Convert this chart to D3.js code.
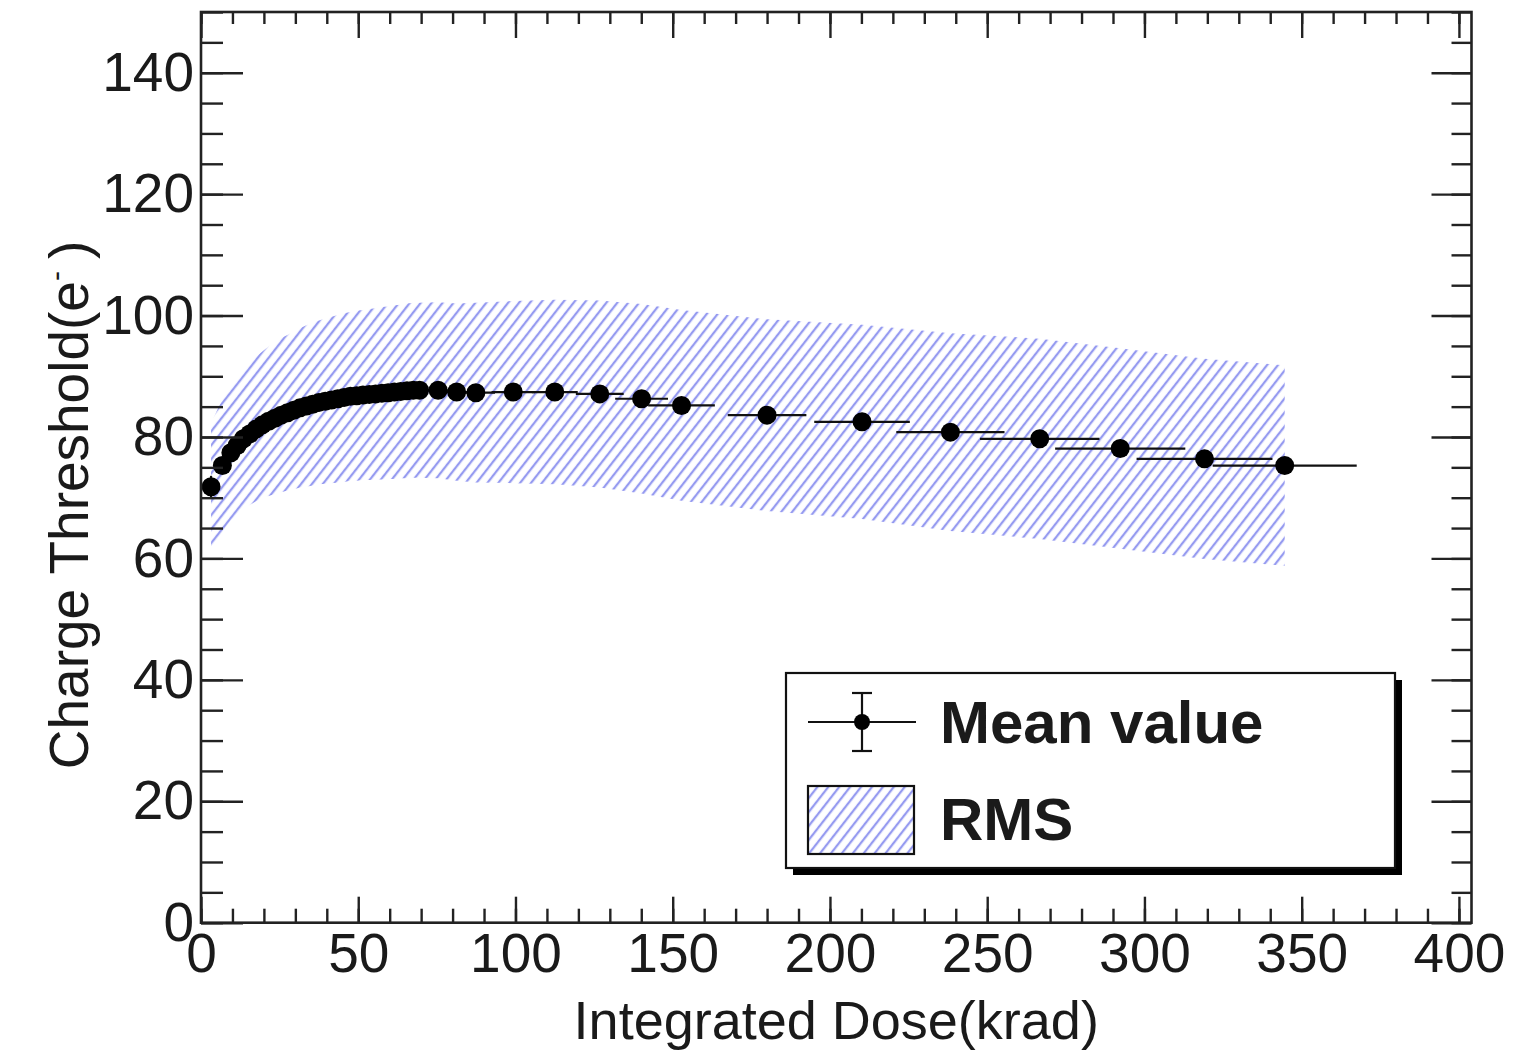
<!DOCTYPE html>
<meta charset="utf-8">
<script src="https://d3js.org/d3.v7.min.js"></script>
<style>
body { margin: 0; background: #fff; }
text { font-family: "Liberation Sans", Arial, Helvetica, sans-serif; fill: #1a1a1a; }
</style>
<body>
<script>

// data: dose (krad), mean threshold (e-), errors and RMS
var doseVals = [3.2, 6.8, 9.5, 11.5, 13.5, 15.5, 17.5, 19.5, 21.5, 23.5, 25.5, 27.5, 29.5, 31.5, 33.5, 35.5, 37.5,
    39.5, 41.5, 43.5, 45.5, 47.5, 49.5, 51.5, 53.5, 55.5, 57.5, 59.5, 61.5, 63.5, 65.5, 67.5, 69.5,
    75.4, 81.3, 87.4, 99.3, 112.5, 126.8, 140.1, 152.8, 180.0, 210.2, 238.3, 266.7, 292.3, 319.1, 344.6];
var meanVals = [71.8, 75.3, 77.4, 78.6, 79.7, 80.5, 81.3, 82.0, 82.6, 83.1, 83.6, 84.0, 84.4, 84.8, 85.1, 85.4, 85.7,
    85.9, 86.1, 86.3, 86.5, 86.7, 86.8, 86.9, 87.0, 87.1, 87.2, 87.3, 87.4, 87.5, 87.6, 87.7, 87.7,
    87.7, 87.4, 87.3, 87.4, 87.4, 87.1, 86.3, 85.2, 83.6, 82.5, 80.8, 79.7, 78.1, 76.4, 75.3];
var doseErr = [0.2, 0.5, 0.7, 0.8, 0.9, 1.1, 1.2, 1.4, 1.5, 1.6, 1.8, 1.9, 2.1, 2.2, 2.3, 2.5, 2.6,
    2.8, 2.9, 3.0, 3.2, 3.3, 3.5, 3.6, 3.7, 3.9, 4.0, 4.2, 4.3, 4.4, 4.6, 4.7, 4.9,
    5.3, 5.7, 6.1, 6.9, 7.3, 7.6, 8.4, 10.6, 12.5, 15.2, 17.2, 19.0, 20.7, 21.6, 22.9];
var meanErr = [1.8, 1.2, 1.0, 1.0, 0.9, 0.9, 0.9, 0.9, 0.8, 0.8, 0.8, 0.8, 0.8, 0.8, 0.8, 0.8, 0.8,
    0.8, 0.8, 0.8, 0.8, 0.8, 0.8, 0.8, 0.8, 0.8, 0.8, 0.8, 0.8, 0.8, 0.8, 0.8, 0.8,
    0.8, 0.8, 0.8, 0.8, 0.8, 0.8, 0.8, 0.8, 0.8, 0.8, 0.8, 0.8, 0.8, 0.8, 0.8];
var rmsVals = [10.5, 10.9, 11.1, 11.3, 11.5, 11.7, 11.9, 12.1, 12.3, 12.5, 12.7, 12.8, 13.0, 13.1, 13.3, 13.4, 13.5,
    13.6, 13.7, 13.8, 13.9, 13.9, 14.0, 14.0, 14.1, 14.1, 14.2, 14.2, 14.3, 14.3, 14.4, 14.4, 14.4,
    14.5, 14.6, 14.8, 15.0, 15.2, 15.4, 15.6, 15.7, 15.8, 16.0, 16.3, 16.5, 16.5, 16.5, 16.5];

var xMajor = [0, 50, 100, 150, 200, 250, 300, 350, 400];
var xMinor = d3.range(0, 405, 10);
var yMajor = [0, 20, 40, 60, 80, 100, 120, 140];
var yMinor = d3.range(0, 151, 5);

var legendLabels = ["Mean value", "RMS"];
var xTitle = "Integrated Dose(krad)";

// frame
var W = 1538, H = 1060;
var frame = {left: 201, right: 1471.5, top: 12, bottom: 922.7};
var x = d3.scaleLinear().domain([0, 404]).range([frame.left, frame.right]);
var y = d3.scaleLinear().domain([0, 150]).range([frame.bottom, frame.top]);

var svg = d3.select("body").append("svg")
    .attr("width", W)
    .attr("height", H);

var defs = svg.append("defs");
var hatch = defs.append("pattern")
    .attr("id", "hatch")
    .attr("patternUnits", "userSpaceOnUse")
    .attr("width", 8.6).attr("height", 20)
    .attr("patternTransform", "rotate(38)");
hatch.append("line")
    .attr("x1", 2).attr("y1", -2).attr("x2", 2).attr("y2", 22)
    .attr("stroke", "#959af0").attr("stroke-width", 2.3);

var points = doseVals.map(function(d, i) {
    return {x: d, m: meanVals[i], ex: doseErr[i], ey: meanErr[i], r: rmsVals[i]};
});

// RMS band
var band = d3.area()
    .x(function(d) { return x(d.x); })
    .y0(function(d) { return y(d.m - d.r); })
    .y1(function(d) { return y(d.m + d.r); });
svg.append("path").datum(points)
    .attr("d", band)
    .attr("fill", "url(#hatch)");

// error bars
var eb = svg.append("g").attr("stroke", "#111").attr("stroke-width", 2.2);
eb.selectAll("line.ex").data(points).enter().append("line")
    .attr("class", "ex")
    .attr("x1", function(d) { return x(d.x - d.ex); })
    .attr("x2", function(d) { return x(d.x + d.ex); })
    .attr("y1", function(d) { return y(d.m); })
    .attr("y2", function(d) { return y(d.m); });
eb.selectAll("line.ey").data(points).enter().append("line")
    .attr("class", "ey")
    .attr("x1", function(d) { return x(d.x); })
    .attr("x2", function(d) { return x(d.x); })
    .attr("y1", function(d) { return y(d.m - d.ey); })
    .attr("y2", function(d) { return y(d.m + d.ey); });

svg.append("g").selectAll("circle").data(points).enter().append("circle")
    .attr("cx", function(d) { return x(d.x); })
    .attr("cy", function(d) { return y(d.m); })
    .attr("r", 9.5)
    .attr("fill", "#000");

// axes, ticks pointing inwards
function styleAxis(g) {
    g.select(".domain").remove();
    g.selectAll(".tick line").attr("stroke", "#222").attr("stroke-width", 2.4);
    g.selectAll(".tick text").style("font-size", "55px").attr("fill", "#1a1a1a");
}
svg.append("g").attr("transform", "translate(0," + frame.bottom + ")")
    .call(d3.axisBottom(x).tickValues(xMinor).tickSize(-14).tickFormat("")).call(styleAxis);
svg.append("g").attr("transform", "translate(0," + frame.bottom + ")")
    .call(d3.axisBottom(x).tickValues(xMajor).tickSize(-26).tickPadding(10).tickFormat(d3.format("d"))).call(styleAxis);
svg.append("g").attr("transform", "translate(0," + frame.top + ")")
    .call(d3.axisTop(x).tickValues(xMinor).tickSize(-12).tickFormat("")).call(styleAxis);
svg.append("g").attr("transform", "translate(0," + frame.top + ")")
    .call(d3.axisTop(x).tickValues(xMajor).tickSize(-26).tickFormat("")).call(styleAxis);
svg.append("g").attr("transform", "translate(" + frame.left + ",0)")
    .call(d3.axisLeft(y).tickValues(yMinor).tickSize(-22).tickFormat("")).call(styleAxis);
svg.append("g").attr("transform", "translate(" + frame.left + ",0)")
    .call(d3.axisLeft(y).tickValues(yMajor).tickSize(-42).tickPadding(7).tickFormat(d3.format("d"))).call(styleAxis);
svg.append("g").attr("transform", "translate(" + frame.right + ",0)")
    .call(d3.axisRight(y).tickValues(yMinor).tickSize(-20).tickFormat("")).call(styleAxis);
svg.append("g").attr("transform", "translate(" + frame.right + ",0)")
    .call(d3.axisRight(y).tickValues(yMajor).tickSize(-40).tickFormat("")).call(styleAxis);

svg.append("rect")
    .attr("x", frame.left).attr("y", frame.top)
    .attr("width", frame.right - frame.left).attr("height", frame.bottom - frame.top)
    .attr("fill", "none").attr("stroke", "#222").attr("stroke-width", 2.6);

// titles
svg.append("text")
    .attr("x", (frame.left + frame.right) / 2).attr("y", 1039)
    .attr("text-anchor", "middle")
    .style("font-size", "54px")
    .text(xTitle);

var yt = svg.append("text")
    .attr("transform", "translate(88,505) rotate(-90)")
    .attr("text-anchor", "middle")
    .style("font-size", "55px");
yt.append("tspan").text("Charge Threshold(e");
yt.append("tspan").attr("dy", -22).style("font-size", "30px").text("-");
yt.append("tspan").attr("dy", 22).attr("dx", 12).text(")");

// legend
var lg = svg.append("g");
lg.append("rect").attr("x", 793).attr("y", 680).attr("width", 609).attr("height", 195).attr("fill", "#000");
lg.append("rect").attr("x", 786).attr("y", 673).attr("width", 609).attr("height", 195)
    .attr("fill", "#fff").attr("stroke", "#111").attr("stroke-width", 2.2);
lg.append("line").attr("x1", 808).attr("x2", 916).attr("y1", 722).attr("y2", 722)
    .attr("stroke", "#111").attr("stroke-width", 2.2);
lg.append("line").attr("x1", 862).attr("x2", 862).attr("y1", 693).attr("y2", 751)
    .attr("stroke", "#111").attr("stroke-width", 2.2);
lg.append("line").attr("x1", 852).attr("x2", 872).attr("y1", 693).attr("y2", 693)
    .attr("stroke", "#111").attr("stroke-width", 2.2);
lg.append("line").attr("x1", 852).attr("x2", 872).attr("y1", 751).attr("y2", 751)
    .attr("stroke", "#111").attr("stroke-width", 2.2);
lg.append("circle").attr("cx", 862).attr("cy", 722).attr("r", 8).attr("fill", "#000");
lg.append("rect").attr("x", 808).attr("y", 786).attr("width", 106).attr("height", 68)
    .attr("fill", "url(#hatch)").attr("stroke", "#111").attr("stroke-width", 2.2);
lg.selectAll("text.lab").data(legendLabels).enter().append("text")
    .attr("class", "lab")
    .attr("x", 940)
    .attr("y", function(d, i) { return 743 + i * 97; })
    .style("font-size", "60px").style("font-weight", "bold")
    .attr("fill", "#000")
    .text(String);

</script>
</body>
</html>
